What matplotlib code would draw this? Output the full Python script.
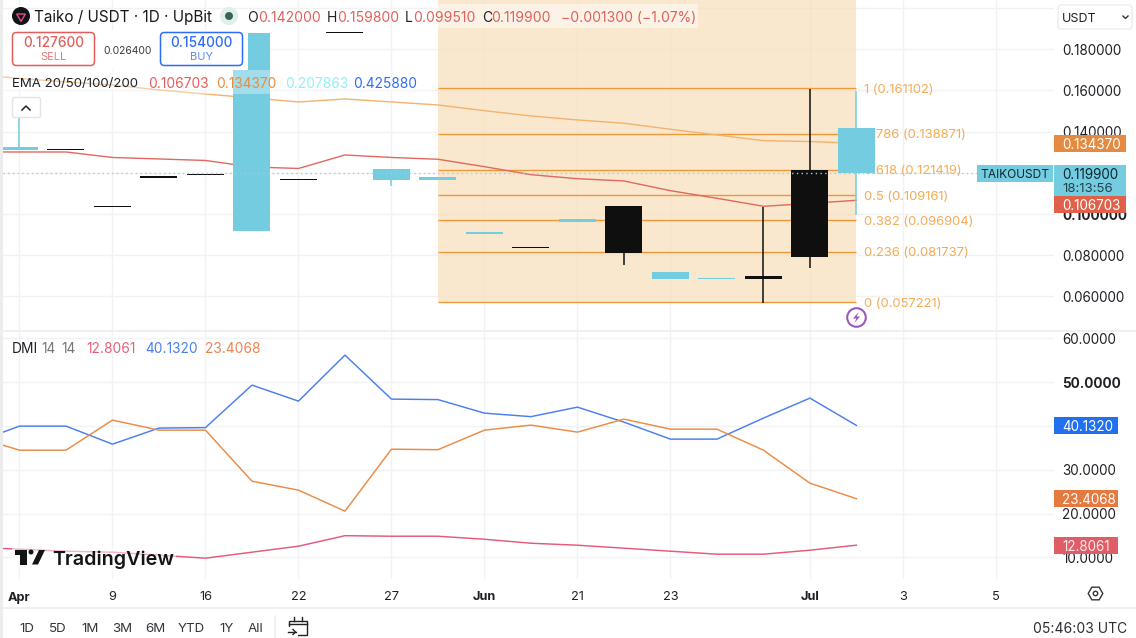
import matplotlib
matplotlib.use("Agg")
import matplotlib.pyplot as plt
from matplotlib.patches import Rectangle, FancyBboxPatch, Circle, Polygon, RegularPolygon

plt.rcParams['font.family'] = ['Inter', 'DejaVu Sans']

# --- data ---
idx = list(range(19))
opens = [0.13257, 0.13120, 0.10320, 0.11750, 0.11925, 0.18791, 0.11700, 0.18820, 0.12189, 0.11801,
         0.09131, 0.08410, 0.09762, 0.08126, 0.07189, 0.06898, 0.06850, 0.07932, 0.14200]
closes = [0.13112, 0.13165, 0.10370, 0.11850, 0.11875, 0.09180, 0.11650, 0.18770, 0.11655, 0.11655,
          0.09034, 0.08360, 0.09617, 0.10393, 0.06850, 0.06850, 0.06995, 0.12141, 0.11990]
highs = [0.14641, 0.13165, 0.10370, 0.11850, 0.11925, 0.18791, 0.11700, 0.18820, 0.12189, 0.11801,
         0.09131, 0.08410, 0.09762, 0.10393, 0.07189, 0.06898, 0.10345, 0.16073, 0.15980]
lows = [0.13112, 0.13120, 0.10320, 0.11750, 0.11875, 0.09180, 0.11650, 0.18770, 0.11364, 0.11655,
        0.09034, 0.08360, 0.09617, 0.07544, 0.06850, 0.06850, 0.05684, 0.07398, 0.09951]
line_idx = list(range(-1, 19))
ema20 = [0.13014, 0.13014, 0.13014, 0.12748, 0.12675, 0.12602, 0.12286, 0.12214, 0.12869, 0.12748,
         0.12660, 0.12301, 0.11913, 0.11718, 0.11607, 0.11136, 0.10767, 0.10379, 0.10515, 0.106703]
ema50 = [0.16800, 0.16583, 0.16413, 0.16267, 0.16024, 0.15830, 0.15636, 0.15442, 0.15587, 0.15442,
         0.15296, 0.15019, 0.14762, 0.14568, 0.14408, 0.14117, 0.13840, 0.13563, 0.13520, 0.13437]
fib_levels = ['1', '0.786', '0.618', '0.5', '0.382', '0.236', '0']
fib_values = [0.161102, 0.138871, 0.121419, 0.109161, 0.096904, 0.081737, 0.057221]
last_price = 0.1199
dmi_plus = [36.09, 39.97, 39.97, 35.86, 39.52, 39.63, 49.32, 45.67, 56.17, 46.13,
            46.02, 42.93, 42.13, 44.30, 40.88, 37.00, 37.00, 41.79, 46.36, 40.132]
dmi_minus = [37.68, 34.48, 34.48, 41.34, 39.05, 39.05, 27.41, 25.36, 20.57, 34.71,
             34.59, 39.05, 40.20, 38.60, 41.56, 39.28, 39.28, 34.48, 26.96, 23.4068]
adx = [12.34, 11.89, 11.43, 11.21, 10.52, 9.84, 11.21, 12.57, 14.97, 14.85,
       14.85, 14.16, 13.25, 12.80, 12.12, 11.43, 10.75, 10.75, 11.66, 12.8061]
x_ticks = [0, 2, 4, 6, 8, 10, 12, 14, 17, 19, 21]
x_labels = ['Apr', '9', '16', '22', '27', 'Jun', '21', '23', 'Jul', '3', '5']
bold_x = {'Apr', 'Jun', 'Jul'}
price_ticks = [0.06, 0.08, 0.10, 0.12, 0.14, 0.16, 0.18, 0.20]
price_labels = ['0.060000', '0.080000', '0.100000', '', '0.140000', '0.160000', '0.180000', '']
dmi_ticks = [10, 20, 30, 40, 50, 60]
dmi_labels = ['10.0000', '20.0000', '30.0000', '', '50.0000', '60.0000']

TEAL = '#74CCE0'
BLACK = '#0F0F0F'
GRID = '#F1F2F4'
FIB = '#F0973A'
FIBTXT = '#F2AC55'
INK = '#1F2126'

W, H = 1136, 638
fig = plt.figure(figsize=(W / 100, H / 100), dpi=100, facecolor='white')

def rect(l, t, r, b):
    return [l / W, 1 - b / H, (r - l) / W, (b - t) / H]

XL = (-0.3548, 22.25)
ax = fig.add_axes(rect(3, 0, 1054, 330))
ax.set_xlim(*XL)
ax.set_ylim(0.04374, 0.2039)
ax2 = fig.add_axes(rect(3, 331, 1054, 579))
ax2.set_xlim(*XL)
ax2.set_ylim(5.09, 61.67)

for a in (ax, ax2):
    for s in a.spines.values():
        s.set_visible(False)
    a.set_xticks(x_ticks)
    a.grid(True, color=GRID, lw=1)
    a.set_axisbelow(True)
    a.tick_params(length=0)
    a.yaxis.tick_right()

ax.set_yticks(price_ticks)
ax.set_yticklabels(price_labels, fontsize=9.7, color=INK)
ax.get_yticklabels()[2].set_fontweight('bold')
ax.tick_params(axis='y', pad=6)
ax.tick_params(axis='x', labelbottom=False)

ax2.set_yticks(dmi_ticks)
ax2.set_yticklabels(dmi_labels, fontsize=9.7, color=INK)
ax2.get_yticklabels()[4].set_fontweight('bold')
ax2.tick_params(axis='y', pad=6)
ax2.set_xticklabels(x_labels, fontsize=9.2, color=INK)
ax2.tick_params(axis='x', pad=9)
for lb in ax2.get_xticklabels():
    if lb.get_text() in bold_x:
        lb.set_fontweight('bold')

# Fibonacci box
ax.fill_between([9, 18], fib_values[-1], 0.2039, color='#F8D9AC', alpha=0.58, lw=0, zorder=1.5)
for name, val in zip(fib_levels, fib_values):
    ax.plot([9, 18], [val, val], color=FIB, lw=1.0, zorder=2, solid_capstyle='butt')
    ax.text(18.17, val, f'{name} ({val:.6f})', color=FIBTXT, fontsize=9.4, va='center_baseline', ha='left', zorder=2.2)

# EMAs
ax.plot(line_idx, ema50, color='#F3B26E', lw=1.0, zorder=3)
ax.plot(line_idx, ema20, color='#E2675F', lw=1.0, zorder=3)

# Candles
cw = 37 / 46.5
teal_days = {0, 5, 8, 9, 10, 12, 14, 15, 18}
for i, o, c, h, l in zip(idx, opens, closes, highs, lows):
    col = TEAL if i in teal_days else BLACK
    ax.plot([i, i], [l, h], color=col, lw=1.1, zorder=4, solid_capstyle='butt')
    b, t = min(o, c), max(o, c)
    ax.add_patch(Rectangle((i - cw / 2, b), cw, t - b, facecolor=col, edgecolor='none', zorder=4.5))

ax.axhline(last_price, xmax=(977 - 3) / (1054 - 3), color='#A9CBD1', lw=1, ls=(0, (1, 2.4)), zorder=5)

# DMI
ax2.plot(line_idx, dmi_plus, color='#4A7FF0', lw=1.05)
ax2.plot(line_idx, dmi_minus, color='#EB8B45', lw=1.05)
ax2.plot(line_idx, adx, color='#E5597A', lw=1.05)

# --- overlay with the interface elements, in pixels ---
ov = fig.add_axes([0, 0, 1, 1], zorder=10)
ov.set_xlim(0, W)
ov.set_ylim(H, 0)
ov.axis('off')
ov.patch.set_alpha(0)

def txt(x, y, s, color=INK, size=9.7, ha='left', weight='normal', **kw):
    ov.text(x, y, s, color=color, fontsize=size, ha=ha, va='center_baseline', fontweight=weight, **kw)

def box(l, t, r, b, fc, ec='none', lw=0, round_=0, alpha=1, z=1):
    if round_:
        p = FancyBboxPatch((l + round_, t + round_), r - l - 2 * round_, b - t - 2 * round_,
                           boxstyle=f'round,pad={round_}', fc=fc, ec=ec, lw=lw, alpha=alpha, zorder=z)
    else:
        p = Rectangle((l, t), r - l, b - t, fc=fc, ec=ec, lw=lw, alpha=alpha, zorder=z)
    ov.add_patch(p)

RED = '#E25F5B'
BLUE = '#2E6DF6'

# left strip, separators
box(0, 0, 3, H, '#ECECEC')
ov.plot([3, W], [330.5, 330.5], color='#EDEEF0', lw=1.2)
ov.plot([3, W], [607.5, 607.5], color='#EDEEF0', lw=1.2)
ov.plot([274.5, 274.5], [616, 638], color='#EDEEF0', lw=1.2)

# header
ov.add_patch(Circle((21, 16), 9, fc='#111318', ec='none', zorder=2))
ov.add_patch(RegularPolygon((21, 16.5), 3, radius=5, fc='none', ec='#E0508A', lw=1, zorder=3))
txt(34, 16, 'Taiko / USDT · 1D · UpBit', size=11, color='#17181C')
ov.add_patch(Circle((229, 16), 9, fc='#E1EEEA', ec='none', zorder=2))
ov.add_patch(Circle((229, 16), 4, fc='#33665A', ec='none', zorder=3))
box(437, 4, 698, 28, 'white', alpha=0.5)
for x, s, col in [(247, 'O', INK), (258, '0.142000', RED), (327, 'H', INK), (337, '0.159800', RED),
                  (405, 'L', INK), (413, '0.099510', RED), (482, 'C', INK), (491, '0.119900', RED),
                  (561, '−0.001300 (−1.07%)', RED)]:
    txt(x, 16.5, s, color=col, size=10, zorder=3)

# buy / sell
box(3, 30, 248, 70, 'white')
box(12.5, 32.5, 94.5, 65.5, 'white', ec=RED, lw=1.1, round_=4, z=2)
box(160.5, 32.5, 242.5, 65.5, 'white', ec=BLUE, lw=1.1, round_=4, z=2)
txt(53.5, 41.5, '0.127600', RED, 9.8, ha='center', weight='medium', zorder=3)
txt(53.5, 56, 'SELL', '#E37A76', 8, ha='center', zorder=3)
txt(201.5, 41.5, '0.154000', BLUE, 9.8, ha='center', weight='medium', zorder=3)
txt(201.5, 56, 'BUY', '#5C8CF3', 8, ha='center', zorder=3)
txt(127.5, 49.5, '0.026400', '#3A3C42', 7.5, ha='center', zorder=3)

# EMA legend
box(3, 70, 420, 94, 'white', alpha=0.35)
txt(12, 82.5, 'EMA 20/50/100/200', '#1F2126', 9.5, zorder=3)
for x, s, col in [(148, '0.106703', RED), (216, '0.134370', '#E98B3F'),
                  (285, '0.207863', '#8DF0FA'), (353, '0.425880', BLUE)]:
    txt(x, 82.5, s, col, 9.9, zorder=3)
box(12.5, 97.5, 40.5, 117.5, 'white', ec='#E3E4E7', lw=1, round_=2, z=2)
ov.plot([22, 26, 30], [110, 106, 110], color='#222', lw=1.1, zorder=3)

# currency selector
box(1058, 5, 1132, 29, 'white', ec='#ECEDEF', lw=1, round_=3)
txt(1062, 17, 'USDT', '#1F2126', 9)
ov.plot([1123, 1125.5, 1128], [16, 18.5, 16], color='#333', lw=1)

# value tags
box(1054, 135, 1126, 152, '#E58A3F')
txt(1062, 143.5, '0.134370', 'white', 9.7, zorder=3)
box(977, 165, 1053, 182, TEAL)
txt(1015, 173.5, 'TAIKOUSDT', '#0E2730', 8.6, ha='center', zorder=3)
box(1054, 165, 1126, 196, TEAL)
txt(1062, 173.5, '0.119900', '#0E2730', 9.7, zorder=3)
txt(1062, 187, '18:13:56', '#23414A', 9.5, zorder=3)
box(1054, 196, 1126, 213, '#E0604A')
txt(1062, 204.5, '0.106703', 'white', 9.7, zorder=3)

box(1054, 417, 1118, 434, '#2070F0')
txt(1062, 425.5, '40.1320', 'white', 9.7, zorder=3)
box(1054, 490, 1118, 507, '#E57A40')
txt(1062, 498.5, '23.4068', 'white', 9.7, zorder=3)
box(1054, 537, 1118, 554, '#DE5D66')
txt(1062, 545.5, '12.8061', '#FFE8EC', 9.7, zorder=3)

# lightning badge
ov.add_patch(Circle((856.5, 317.5), 9.3, fc='white', ec='#9B59C0', lw=1.5, zorder=3))
ov.add_patch(Polygon([(858.5, 312), (853, 318.5), (856.3, 318.5), (854.5, 323), (860, 316.5), (856.7, 316.5)],
                     fc='#9B59C0', ec='none', zorder=4))

# DMI legend
for x, s, col in [(12, 'DMI', '#1F2126'), (41, '14', '#777'), (61, '14', '#777'), (86, '12.8061', '#DF6378'),
                  (145, '40.1320', '#4A7FF0'), (205, '23.4068', '#EC8550')]:
    txt(x, 347.5, s, col, 9.9, zorder=3)

# TradingView mark
ink_logo = '#131416'
box(12, 547, 176, 568, 'white', alpha=0.55, z=1.5)
ov.add_patch(Polygon([(15, 550), (27, 550), (27, 564.5), (20, 564.5), (20, 554.5), (15, 554.5)], fc=ink_logo, ec='none', zorder=3))
ov.add_patch(Circle((31, 552), 2.5, fc=ink_logo, ec='none', zorder=3))
ov.add_patch(Polygon([(32, 564.5), (38, 564.5), (45, 550), (39, 550)], fc=ink_logo, ec='none', zorder=3))
txt(52, 558, 'TradingView', ink_logo, 14.2, weight='semibold', zorder=3)

# bottom bar
for x, s in [(27, '1D'), (58, '5D'), (90, '1M'), (122, '3M'), (155, '6M'), (191, 'YTD'), (227, '1Y'), (256, 'All')]:
    txt(x, 628, s, '#33353B', 9.6, ha='center')
ov.add_patch(Rectangle((288.5, 620.5), 18, 14, fc='none', ec='#222', lw=1))
ov.plot([288.5, 306.5], [623.5, 623.5], color='#222', lw=1)
ov.plot([293.5, 293.5], [617, 621], color='#222', lw=1)
ov.plot([301.5, 301.5], [617, 621], color='#222', lw=1)
box(287, 627, 298, 637, 'white', z=1.5)
ov.plot([288, 295.5], [632, 632], color='#222', lw=1, zorder=2)
ov.plot([293, 295.5, 293], [629.5, 632, 634.5], color='#222', lw=1, zorder=2)
txt(1127, 627.5, '05:46:03 UTC', '#2A2C31', 10, ha='right')
ov.add_patch(RegularPolygon((1095.5, 593.5), 6, radius=7.3, orientation=3.14159 / 2, fc='none', ec='#333', lw=1))
ov.add_patch(Circle((1095.5, 593.5), 2.2, fc='none', ec='#333', lw=1))

fig.savefig('out.png', dpi=100, facecolor='white')
